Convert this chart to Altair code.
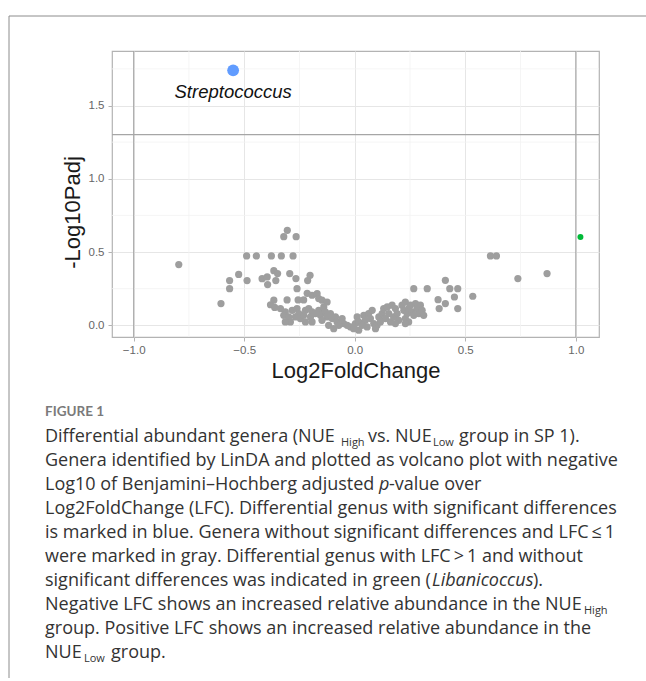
import altair as alt
import pandas as pd

# ---------------- data ----------------
gray_lfc = [
    -0.796, -0.605, -0.566, -0.566, -0.525, -0.489, -0.487, -0.445, -0.419, -0.396,
    -0.394, -0.377, -0.366, -0.349, -0.357, -0.332, -0.321, -0.305, -0.294, -0.279,
    -0.265, -0.266, -0.261, -0.202, -0.213, -0.215,
    -0.193, -0.170, -0.163, -0.148, -0.125, -0.366, -0.381, -0.362, -0.306, -0.256, -0.231,
    -0.336, -0.314, -0.321, -0.299, -0.283, -0.261, -0.253, -0.268, -0.246, -0.231,
    -0.223, -0.208, -0.193, -0.200, -0.178, -0.163, -0.155, -0.140, -0.133, -0.125,
    -0.148, -0.110, -0.102, -0.087, -0.080, -0.057, -0.050, -0.072, -0.034, -0.019,
    -0.005, 0.003, 0.011, 0.018, -0.223, -0.193, -0.291, -0.314, -0.118, -0.095,
    0.018, 0.041, 0.048, 0.063, 0.079, 0.071, 0.086, 0.101, 0.109, 0.124,
    0.131, 0.147, 0.139, 0.154, 0.162, 0.169, 0.184, 0.176, 0.192, 0.199,
    0.214, 0.222, 0.229, 0.229, 0.237, 0.244, 0.252, 0.260, 0.267, 0.275,
    0.282, 0.290, 0.297, 0.305, 0.312, 0.244, 0.229, 0.267, 0.328, 0.184,
    0.116, 0.094, 0.056, 0.033,
    0.377, 0.382, 0.410, 0.410, 0.430, 0.451, 0.466, 0.466, 0.534, 0.614,
    0.641, 0.738, 0.870,
]
gray_padj = [
    0.414, 0.148, 0.305, 0.250, 0.347, 0.473, 0.305, 0.473, 0.318, 0.330,
    0.278, 0.473, 0.373, 0.353, 0.305, 0.473, 0.605, 0.648, 0.353, 0.473,
    0.605, 0.319, 0.250, 0.341, 0.305, 0.218,
    0.205, 0.216, 0.182, 0.171, 0.159, 0.171, 0.140, 0.122, 0.173, 0.173, 0.173,
    0.114, 0.091, 0.068, 0.057, 0.102, 0.114, 0.080, 0.057, 0.046, 0.068,
    0.102, 0.114, 0.091, 0.057, 0.080, 0.102, 0.068, 0.125, 0.091, 0.057,
    0.034, 0.080, 0.046, 0.057, 0.023, 0.046, 0.012, 0.000, 0.000, -0.011,
    -0.023, 0.012, 0.057, -0.034, 0.023, 0.023, 0.023, 0.023, 0.000, -0.023,
    0.023, 0.068, 0.034, 0.080, 0.102, 0.046, 0.012, 0.000, 0.057, 0.080,
    0.114, 0.125, 0.046, 0.080, 0.023, 0.137, 0.114, 0.057, 0.080, 0.034,
    0.137, 0.102, 0.159, 0.046, 0.080, 0.114, 0.137, 0.091, 0.068, 0.148,
    0.114, 0.080, 0.137, 0.102, 0.068, 0.023, 0.012, 0.250, 0.250, 0.012,
    0.023, -0.023, -0.011, 0.000,
    0.175, 0.114, 0.307, 0.148, 0.250, 0.193, 0.250, 0.114, 0.198, 0.473,
    0.473, 0.319, 0.353,
]
sig_genus = ["Streptococcus"]
sig_lfc = [-0.55]
sig_padj = [1.74]
green_genus = ["Libanicoccus"]
green_lfc = [1.021]
green_padj = [0.603]
lfc_cut = [-1.0, 1.0]
padj_cut = [1.301]
x_ticks = [-1.0, -0.5, 0.0, 0.5, 1.0]
y_ticks = [0.0, 0.5, 1.0, 1.5]
x_minor = [-0.75, -0.25, 0.25, 0.75]
y_minor = [0.25, 0.75, 1.25, 1.75]
x_domain = [-1.098, 1.105]
y_domain = [-0.08, 1.872]

figure_label = "FIGURE 1"
# caption lines: list of segments (text, style)
caption = [
    [("Differential abundant genera (NUE", "n"), ("High", "s"), ("vs. NUE", "n"), ("Low", "s"), ("group in SP 1).", "n")],
    [("Genera identified by LinDA and plotted as volcano plot with negative", "n")],
    [("Log10 of Benjamini\u2013Hochberg adjusted", "n"), ("p", "i"), ("-value over", "n")],
    [("Log2FoldChange (LFC). Differential genus with significant differences", "n")],
    [("is marked in blue. Genera without significant differences and LFC\u2009\u2264\u20091", "n")],
    [("were marked in gray. Differential genus with LFC\u2009>\u20091 and without", "n")],
    [("significant differences was indicated in green (", "n"), ("Libanicoccus", "i"), (").", "n")],
    [("Negative LFC shows an increased relative abundance in the NUE", "n"), ("High", "s")],
    [("group. Positive LFC shows an increased relative abundance in the", "n")],
    [("NUE", "n"), ("Low", "s"), ("group.", "n")],
]
# layout (page pixels) of segment starts
seg_x = [
    [45, 341, 368, 433, 459],
    [45],
    [45, 379, 389],
    [45],
    [45],
    [45],
    [45, 432, 533],
    [45, 584],
    [45],
    [45, 84, 111],
]

# ---------------- layout ----------------
PL, PT = 112, 51
W, H = 487, 286
FONT = "Liberation Sans"
CFONT = "Open Sans"

gray_df = pd.DataFrame({"lfc": gray_lfc, "padj": gray_padj})
sig_df = pd.DataFrame({"genus": sig_genus, "lfc": sig_lfc, "padj": sig_padj})
green_df = pd.DataFrame({"genus": green_genus, "lfc": green_lfc, "padj": green_padj})

xs = alt.Scale(domain=x_domain, nice=False, zero=False)
ys = alt.Scale(domain=y_domain, nice=False, zero=False)

x_axis = alt.Axis(values=x_ticks, format=".1f", title="Log2FoldChange", grid=True,
                  gridColor="#e6e6e6", gridWidth=1, domain=False,
                  tickColor="#b3b3b3", tickSize=4, labelPadding=3,
                  labelFont=FONT, labelFontSize=11.5, labelColor="#666666",
                  titleFont=FONT, titleFontSize=22, titleFontWeight="normal",
                  titleColor="#1a1a1a", titleY=33, titleBaseline="middle")
y_axis = alt.Axis(values=y_ticks, format=".1f", title="-Log10Padj", grid=True,
                  gridColor="#e6e6e6", gridWidth=1, domain=False,
                  tickColor="#b3b3b3", tickSize=4, labelPadding=4,
                  labelFont=FONT, labelFontSize=11.5, labelColor="#666666",
                  titleFont=FONT, titleFontSize=22, titleFontWeight="normal",
                  titleColor="#1a1a1a", titleX=-40, titleY=161, titleBaseline="middle",
                  titleAngle=-90)

base_x = alt.X("lfc:Q", scale=xs, axis=x_axis)
base_y = alt.Y("padj:Q", scale=ys, axis=y_axis)

minor_v = alt.Chart(pd.DataFrame({"v": x_minor})).mark_rule(
    color="#f2f2f2", strokeWidth=0.8).encode(x=alt.X("v:Q", scale=xs))
minor_h = alt.Chart(pd.DataFrame({"v": y_minor})).mark_rule(
    color="#f2f2f2", strokeWidth=0.8).encode(y=alt.Y("v:Q", scale=ys))

points = alt.Chart(gray_df).mark_circle(size=52, color="#9e9e9e", opacity=1).encode(
    x=base_x, y=base_y)

vlines = alt.Chart(pd.DataFrame({"v": lfc_cut})).mark_rule(
    color="#a6a6a6", strokeWidth=1.1).encode(x=alt.X("v:Q", scale=xs))
hline = alt.Chart(pd.DataFrame({"v": padj_cut})).mark_rule(
    color="#a6a6a6", strokeWidth=1.1).encode(y=alt.Y("v:Q", scale=ys))

sig = alt.Chart(sig_df).mark_circle(size=140, color="#619CFF", opacity=1).encode(
    x=alt.X("lfc:Q", scale=xs), y=alt.Y("padj:Q", scale=ys))
sig_label = alt.Chart(sig_df).mark_text(
    font=FONT, fontSize=18.5, fontStyle="italic", color="#111111",
    baseline="alphabetic", align="center", dy=28).encode(
    x=alt.X("lfc:Q", scale=xs), y=alt.Y("padj:Q", scale=ys), text="genus:N")
green = alt.Chart(green_df).mark_circle(size=36, color="#00BA38", opacity=1).encode(
    x=alt.X("lfc:Q", scale=xs), y=alt.Y("padj:Q", scale=ys))

one = alt.Data(values=[{"k": 1}])
frame_top = alt.Chart(one).mark_rule(color="#8c8c8c", strokeWidth=1).encode(
    x=alt.value(9 - PL), x2=alt.value(646 - PL), y=alt.value(16 - PT))
frame_left = alt.Chart(one).mark_rule(color="#8c8c8c", strokeWidth=1).encode(
    x=alt.value(9 - PL), y=alt.value(16 - PT), y2=alt.value(678 - PT))

layers = [minor_v, minor_h, points, vlines, hline, sig, sig_label, green,
          frame_top, frame_left]

layers.append(alt.Chart(alt.Data(values=[{"t": figure_label}])).mark_text(
    font="Lato", fontSize=13.5, fontWeight="bold", color="#7a7a7a",
    align="left", baseline="alphabetic").encode(
    x=alt.value(45 - PL), y=alt.value(416 - PT), text="t:N"))

for li, (segs, xs_line) in enumerate(zip(caption, seg_x)):
    base_y_px = 442 + 24 * li
    for (txt, style), sx in zip(segs, xs_line):
        kw = dict(font=CFONT, color="#333333", align="left", baseline="alphabetic")
        yy = base_y_px
        if style == "s":
            kw["fontSize"] = 11
            yy = base_y_px + 4
        else:
            kw["fontSize"] = 18
        if style == "i":
            kw["fontStyle"] = "italic"
        layers.append(alt.Chart(alt.Data(values=[{"t": txt}])).mark_text(**kw).encode(
            x=alt.value(sx - PL), y=alt.value(yy - PT), text="t:N"))

chart = alt.layer(*layers).properties(
    width=W, height=H,
    autosize=alt.AutoSizeParams(type="none"),
    padding={"left": PL, "top": PT, "right": 646 - PL - W, "bottom": 681 - PT - H},
    background="white",
).configure_view(stroke="#b3b3b3", strokeWidth=1.2)

chart.save("out.html", embed_options={"renderer": "svg", "actions": False})
